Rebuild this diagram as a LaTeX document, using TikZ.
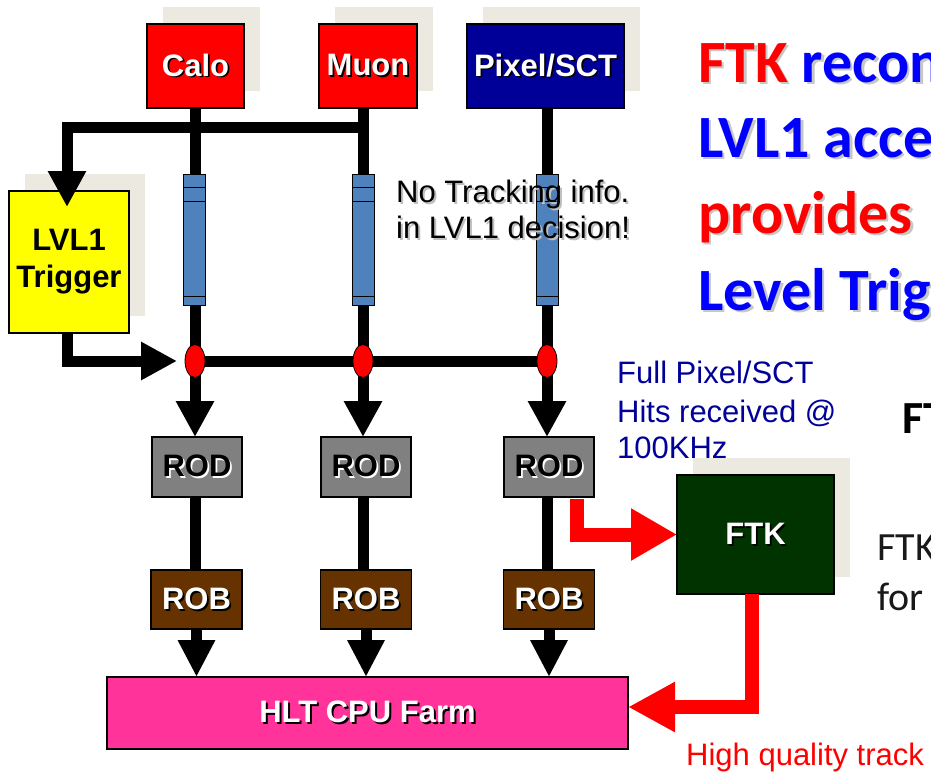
\documentclass[tikz,border=0pt]{standalone}
\usepackage{fontspec}
\setmainfont{Liberation Sans}
\newfontfamily\calib{Carlito}
\usetikzlibrary{arrows.meta,shadows,calc,shapes.geometric}

\definecolor{beige}{HTML}{ECE9E0}
\definecolor{calored}{HTML}{FF0000}
\definecolor{pixnavy}{HTML}{000099}
\definecolor{trigyellow}{HTML}{FFFF00}
\definecolor{rodgray}{HTML}{808080}
\definecolor{robbrown}{HTML}{663300}
\definecolor{hltpink}{HTML}{FF3399}
\definecolor{ftkgreen}{HTML}{003300}
\definecolor{cableblue}{HTML}{4F81BD}
\definecolor{hitnavy}{HTML}{000099}
\definecolor{txtblue}{HTML}{0000FF}

\newcommand\myfs[2]{\fontsize{#1}{#2}\selectfont}
% text with an offset shadow: fg colour, shadow colour, offset, text
\newcommand\shtext[4]{{\makebox[0pt][l]{\kern#3\raisebox{-#3}{\color{#2}#4}}{\color{#1}#4}}}

\begin{document}
\begin{tikzpicture}[x=1pt,y=-1pt,
  box/.style={draw=black, line width=1.2pt, inner sep=0pt, outer sep=0pt,
    font=\myfs{31}{37}\bfseries},
  shbox/.style={box, drop shadow={shadow xshift=16pt, shadow yshift=17pt,
    fill=beige, opacity=1}},
  bus/.style={line width=11pt, black},
  tipa/.style={-{Triangle[length=36pt,width=36pt]}},
  tipb/.style={-{Triangle[length=37pt,width=35pt]}},
  redline/.style={line width=14pt, red},
  cable/.style={draw=black, line width=0.8pt, fill=cableblue,
    minimum width=22pt, minimum height=131pt, inner sep=0pt,
    path picture={
      \draw[line width=0.8pt] ([yshift=-13pt]path picture bounding box.north west) -- ([yshift=-13pt]path picture bounding box.north east);
      \draw[line width=0.8pt] ([yshift=-27pt]path picture bounding box.north west) -- ([yshift=-27pt]path picture bounding box.north east);
      \draw[line width=0.8pt] ([yshift=9pt]path picture bounding box.south west) -- ([yshift=9pt]path picture bounding box.south east);
    }},
  junction/.style={ellipse, draw=black, line width=0.8pt, fill=red,
    minimum width=20pt, minimum height=33pt, inner sep=0pt},
  plain/.style={anchor=base west, inner sep=0pt, font=\myfs{31}{37}},
  big/.style={anchor=base west, inner sep=0pt, font=\calib\bfseries\myfs{60}{72}}
]
\useasboundingbox (0,0) rectangle (931,772);
\clip (0,0) rectangle (931,772);
\fill[white] (0,0) rectangle (931,772);

% detector sources
\node[shbox, fill=calored, minimum width=97pt, minimum height=84pt] (calo) at (195.5,66)
  {\shtext{white}{black}{1.8pt}{Calo}};
\node[shbox, fill=calored, minimum width=98pt, minimum height=84pt] (muon) at (368,66)
  {\shtext{white}{black}{1.8pt}{Muon}};
\node[shbox, fill=pixnavy, minimum width=157pt, minimum height=84pt] (pix) at (545.5,66)
  {\shtext{white}{black}{1.8pt}{Pixel/SCT}};

% level-1 trigger
\node[shbox, fill=trigyellow, minimum width=120pt, minimum height=142pt, align=center] (L1) at (69,262)
  {LVL1\\Trigger};

% readout drivers
\node[box, fill=rodgray, minimum width=90pt, minimum height=60pt] (rod1) at (197,467)
  {\shtext{black}{white}{1.8pt}{ROD}};
\node[box, fill=rodgray, minimum width=90pt, minimum height=60pt] (rod2) at (366,467)
  {\shtext{black}{white}{1.8pt}{ROD}};
\node[box, fill=rodgray, minimum width=90pt, minimum height=60pt] (rod3) at (549,467)
  {\shtext{black}{white}{1.8pt}{ROD}};

% readout buffers
\node[box, fill=robbrown, minimum width=91pt, minimum height=59pt] (rob1) at (196.5,599.5)
  {\shtext{white}{black}{1.8pt}{ROB}};
\node[box, fill=robbrown, minimum width=91pt, minimum height=59pt] (rob2) at (366,599.5)
  {\shtext{white}{black}{1.8pt}{ROB}};
\node[box, fill=robbrown, minimum width=91pt, minimum height=59pt] (rob3) at (549,599.5)
  {\shtext{white}{black}{1.8pt}{ROB}};

% HLT farm and FTK
\node[box, fill=hltpink, minimum width=521pt, minimum height=72pt] (hlt) at (367.5,713)
  {\shtext{white}{black}{2pt}{HLT CPU Farm}};
\node[shbox, fill=ftkgreen, minimum width=157pt, minimum height=119pt] (ftk) at (755.5,534.5)
  {\shtext{white}{black}{1.8pt}{FTK}};

% junction points on the level-1 accept bus
\coordinate (j1) at (195,361);
\coordinate (j2) at (363,361);
\coordinate (j3) at (547,361);
\coordinate (tb) at (363,127);

% black data paths
\draw[bus] (j1) -- (j3);
\draw[bus, tipa] (tb) -| ($(L1.north)+(-2,16)$);
\draw[bus, tipa, shorten >=18pt] ($(L1.south)+(-2,0)$) |- (j1);
\draw[bus, tipa] (calo.south -| j1) -- (rod1.north -| j1);
\draw[bus, tipa] (muon.south -| j2) -- (rod2.north -| j2);
\draw[bus, tipa] (pix.south -| j3) -- (rod3.north -| j3);
\draw[bus] (rod1.south -| j1) -- (rob1.north -| j1);
\draw[bus] (rod2.south -| j2) -- (rob2.north -| j2);
\draw[bus] (rod3.south -| j3) -- (rob3.north -| j3);
\draw[bus, tipb] (rob1.south) -- (rob1.south |- hlt.north);
\draw[bus, tipb] (rob2.south) -- (rob2.south |- hlt.north);
\draw[bus, tipb] (rob3.south) -- (rob3.south |- hlt.north);

% red FTK paths
\coordinate (rf) at (577,499);
\coordinate (fd) at (752,594);
\draw[redline, -{Triangle[length=46pt,width=49pt]}] (rf) |- (ftk.west);
\draw[redline, -{Triangle[length=47pt,width=47pt]}] (fd) |- ($(hlt.east)+(0,-6)$);

% cables
\node[cable] (cab1) at (194,239.5) {};
\node[cable] (cab2) at (363,239.5) {};
\node[cable] (cab3) at (547,239.5) {};

% junctions
\node[junction] (e1) at (j1) {};
\node[junction] (e2) at (j2) {};
\node[junction] (e3) at (j3) {};

% annotations
\node[plain] (nt1) at (396,202) {\shtext{black}{black!25}{2pt}{No Tracking info.}};
\node[plain] (nt2) at (396,238) {\shtext{black}{black!25}{2pt}{in LVL1 decision!}};

\node[plain, text=hitnavy] (fp1) at (617,383) {Full Pixel/SCT};
\node[plain, text=hitnavy] (fp2) at (617,422) {Hits received @};
\node[plain, text=hitnavy] (fp3) at (617,458) {100KHz};

\node[plain, text=red] (hq) at (686,765) {High quality track};

\node[big] (bt1) at (698,82) {\shtext{red}{black!22}{2.5pt}{FTK} \shtext{txtblue}{black!22}{2.5pt}{recon}};
\node[big] (bt2) at (698,157) {\shtext{txtblue}{black!22}{2.5pt}{LVL1 acce}};
\node[big] (bt3) at (698,233) {\shtext{red}{black!22}{2.5pt}{provides}};
\node[big] (bt4) at (698,310) {\shtext{txtblue}{black!22}{2.5pt}{Level Trig}};

\node[anchor=base west, inner sep=0pt, font=\calib\bfseries\myfs{46}{55}] (ft) at (902,433) {FT};
\node[anchor=base west, inner sep=0pt, font=\calib\myfs{40}{48}, text=black!90] (ftkt) at (877,560) {FTK};
\node[anchor=base west, inner sep=0pt, font=\calib\myfs{40}{48}, text=black!90] (fort) at (877,610) {for};
\end{tikzpicture}
\end{document}
